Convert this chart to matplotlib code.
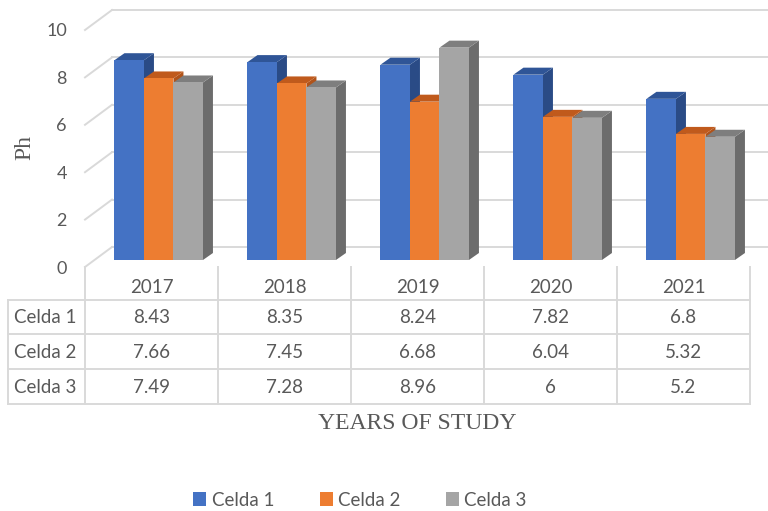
import matplotlib
matplotlib.use('Agg')
import matplotlib.pyplot as plt
from matplotlib.patches import Polygon, Patch
from matplotlib.lines import Line2D
from matplotlib import transforms

# ---------------- data ----------------
years = ['2017', '2018', '2019', '2020', '2021']
series_names = ['Celda 1', 'Celda 2', 'Celda 3']
celda1 = [8.43, 8.35, 8.24, 7.82, 6.8]
celda2 = [7.66, 7.45, 6.68, 6.04, 5.32]
celda3 = [7.49, 7.28, 8.96, 6, 5.2]
yticks = [0, 2, 4, 6, 8, 10]
ylabel = 'Ph'
xlabel = 'YEARS OF STUDY'

series = [celda1, celda2, celda3]
front_cols = ['#4472C4', '#ED7D31', '#A5A5A5']
top_cols = ['#2F5597', '#C05A1C', '#7E7E7E']
side_cols = ['#2A4B86', '#B0531A', '#6C6C6C']
text_col = '#595959'
grid_col = '#D9D9D9'

W, H = 768, 511
fig = plt.figure(figsize=(W / 100, H / 100), dpi=100)


def fx(px):
    return px / W


def fy(py):
    return 1 - py / H


ax = fig.add_axes([fx(85), fy(267), fx(750) - fx(85), fy(30) - fy(267)])
ax.set_xlim(0, 5)
ax.set_ylim(0, 10)
for s in ax.spines.values():
    s.set_visible(False)
ax.set_xticks([])
ax.set_yticks(yticks)
ax.set_yticklabels([str(t) for t in yticks], fontfamily='Lato', fontsize=13, color=text_col)
ax.tick_params(axis='y', length=0, pad=13)

ppx = 133.0   # pixels per category
ppy = 23.7    # pixels per unit
wall_dx, wall_dy = 27 / ppx, 20 / ppy
boff_x, boff_y = 9.5 / ppx, 7 / ppy
bdx, bdy = 10 / ppx, 7 / ppy
bw = 29.5 / ppx
gstart = 0.15

# back wall gridlines and side-wall diagonals
for t in yticks:
    ax.add_line(Line2D([wall_dx, 5 + wall_dx], [t + wall_dy, t + wall_dy],
                       color=grid_col, lw=1.4, clip_on=False, zorder=1))
    ax.add_line(Line2D([0, wall_dx], [t, t + wall_dy],
                       color=grid_col, lw=1.4, clip_on=False, zorder=1))

# 3D bars
z = 2
for i in range(len(years)):
    for j, vals in enumerate(series):
        v = vals[i]
        x0 = i + gstart + j * bw + boff_x
        y0 = boff_y
        y1 = v + boff_y
        front = [(x0, y0), (x0 + bw, y0), (x0 + bw, y1), (x0, y1)]
        top = [(x0, y1), (x0 + bw, y1), (x0 + bw + bdx, y1 + bdy), (x0 + bdx, y1 + bdy)]
        side = [(x0 + bw, y0), (x0 + bw + bdx, y0 + bdy), (x0 + bw + bdx, y1 + bdy), (x0 + bw, y1)]
        ax.add_patch(Polygon(side, closed=True, fc=side_cols[j], ec='none', zorder=z, clip_on=False))
        ax.add_patch(Polygon(top, closed=True, fc=top_cols[j], ec='none', zorder=z, clip_on=False))
        ax.add_patch(Polygon(front, closed=True, fc=front_cols[j], ec='none', zorder=z + 0.5, clip_on=False))
        z += 1

# ---------------- data table ----------------
tr = transforms.blended_transform_factory(ax.transData, fig.transFigure)
left_x = (8 - 85) / ppx
row_lines = [300, 334, 369, 404]
tab_top = 267
for k in range(len(years) + 1):
    fig.add_artist(Line2D([k, k], [fy(tab_top), fy(404)], transform=tr, color=grid_col, lw=1.4))
fig.add_artist(Line2D([left_x, left_x], [fy(300), fy(404)], transform=tr, color=grid_col, lw=1.4))
for r in row_lines:
    fig.add_artist(Line2D([left_x, 5], [fy(r), fy(r)], transform=tr, color=grid_col, lw=1.4))

header_y = 287
row_centers = [317, 352, 387]
for i, yr in enumerate(years):
    fig.text(i + 0.5, fy(header_y), yr, transform=tr, ha='center', va='center',
             fontfamily='Lato', fontsize=13.5, color=text_col)
for j, (name, vals) in enumerate(zip(series_names, series)):
    fig.text((14 - 85) / ppx, fy(row_centers[j]), name, transform=tr, ha='left', va='center',
             fontfamily='Lato', fontsize=13.5, color=text_col)
    for i, v in enumerate(vals):
        fig.text(i + 0.5, fy(row_centers[j]), f'{v:g}', transform=tr, ha='center', va='center',
                 fontfamily='Lato', fontsize=13.5, color=text_col)

# axis titles
fig.text(fx(25), fy(148), ylabel, rotation=90, ha='center', va='center',
         fontfamily='Liberation Serif', fontsize=17, color=text_col)
fig.text(fx(417.5), fy(423), xlabel, ha='center', va='center',
         fontfamily='Liberation Serif', fontsize=17, color=text_col)

# legend
handles = [Patch(fc=c, ec='none', label=n) for c, n in zip(front_cols, series_names)]
leg = fig.legend(handles=handles, loc='center', bbox_to_anchor=(fx(360), fy(500)), ncol=3,
                 frameon=False, handlelength=0.7, handleheight=0.7, handletextpad=0.3,
                 columnspacing=2.4, prop={'family': 'Lato', 'size': 13.5}, labelcolor=text_col)

fig.savefig('out.png', dpi=100)
